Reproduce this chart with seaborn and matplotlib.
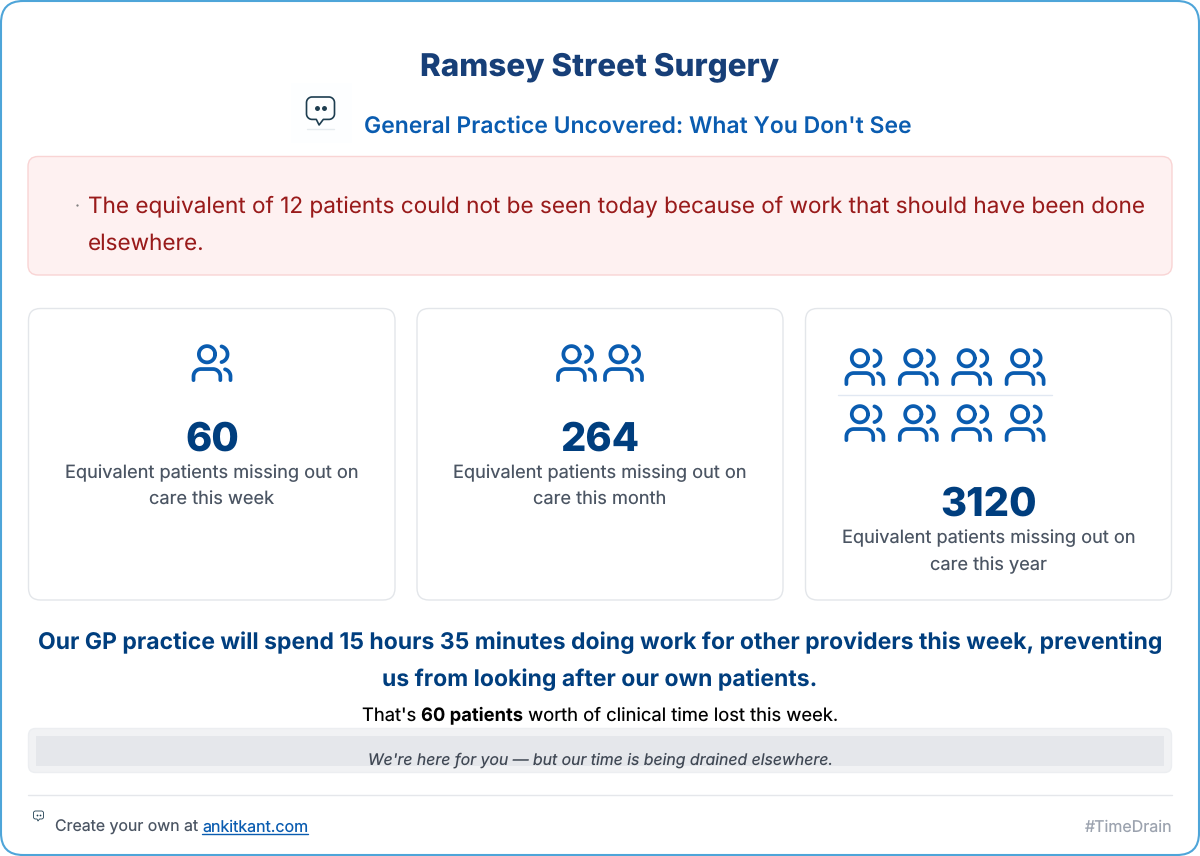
import numpy as np
import pandas as pd
import matplotlib
matplotlib.use("Agg")
import matplotlib.pyplot as plt
import seaborn as sns
from matplotlib.patches import FancyBboxPatch, Rectangle
from matplotlib.path import Path

# the numbers on the cards
card_values = [60, 264, 3120]
card_periods = ["week", "month", "year"]
card_icons = [1, 2, 8]

title = "Ramsey Street Surgery"
subtitle = "General Practice Uncovered: What You Don't See"
alert_lines = ["The equivalent of 12 patients could not be seen today because of work that should have been done",
               "elsewhere."]
headline = ["Our GP practice will spend 15 hours 35 minutes doing work for other providers this week, preventing",
            "us from looking after our own patients."]
lost_runs = [("That's ", "normal"), ("60 patients", "bold"), (" worth of clinical time lost this week.", "normal")]
tagline = "We're here for you \u2014 but our time is being drained elsewhere."

NAVY = "#003e7e"
BLUE = "#0a5cb0"
GREY = "#4b5563"

sns.set_theme(style="white")
plt.rcParams["font.family"] = ["Inter", "DejaVu Sans"]
plt.rcParams["text.hinting"] = "none"
plt.rcParams["text.hinting_factor"] = 1

W, H = 1200, 856
fig = plt.figure(figsize=(12, 8.56), dpi=100)
ax = fig.add_axes([0, 0, 1, 1])
ax.set_xlim(0, W)
ax.set_ylim(H, 0)
ax.axis("off")


def px(size):
    return size * 0.72


def box(x0, y0, x1, y1, r, fc, ec, lw=1.0, z=1):
    ax.add_patch(FancyBboxPatch((x0 + r, y0 + r), x1 - x0 - 2 * r, y1 - y0 - 2 * r,
                                boxstyle=f"round,pad={r},rounding_size={r}",
                                fc=fc, ec=ec, lw=lw, zorder=z))


def arc(cx, cy, r, a0, a1, n=24):
    t = np.radians(np.linspace(a0, a1, n))
    return np.column_stack([cx + r * np.cos(t), cy + r * np.sin(t)])


def make_path(parts):
    verts, codes = [], []
    for p in parts:
        verts.extend(p)
        codes.extend([Path.MOVETO] + [Path.LINETO] * (len(p) - 1))
    return Path(np.array(verts, dtype=float), codes)


# people icon, y up, centred on 0
people = make_path([
    np.vstack([[4.5, -9], [4.5, -7], arc(0.5, -7, 4, 0, 90), arc(-6, -7, 4, 90, 180), [-10, -9]]),
    arc(-2.7, 5, 4.4, 0, 360, 40),
    np.vstack([[10, -9], [10, -7], arc(6, -7, 4, 0, 75)]),
    arc(4, 5, 4.4, 75, -75),
])

# speech bubble icon
bubble = make_path([
    np.vstack([arc(-6, 6, 4, 90, 180), arc(-6, -2, 4, 180, 270), [[-3, -6], [-1, -10], [2, -6]],
               arc(6, -2, 4, 270, 360), arc(6, 6, 4, 0, 90), [[-6, 10]]]),
])

# outer frame and the boxes
box(1, 1, W - 1, H - 1, 22, "white", "#4ea5d9", lw=1.5)
box(28, 156.5, 1172, 275, 10, "#fef1f1", "#f9d4d4")
for x0, x1 in [(28.5, 395), (417, 783), (805.5, 1171.5)]:
    box(x0, 308.5, x1, 600, 12, "white", "#e3e6ea")
ax.plot([838, 1052], [394.5, 394.5], color="#e1e8f2", lw=1, zorder=2)

# header
ax.text(600, 67, title, ha="center", va="center", fontsize=px(31.4), fontweight="extra bold", color="#173f78")
ax.add_patch(Rectangle((291, 83), 61, 60, fc="#fdfeff", ec="none", zorder=1))
ax.plot([307, 334], [129, 129], color="#e6ebef", lw=1, zorder=2)
ax.text(637.5, 127, subtitle, ha="center", va="center", fontsize=px(22.95), fontweight="semibold", color=BLUE)

# small bubbles
icon_df = pd.DataFrame({"x": [320.5, 38.5], "y": [111, 816], "size": [28, 10]})
for _, r in icon_df.iterrows():
    sns.scatterplot(x=[r["x"]], y=[r["y"]], marker=bubble, s=(r["size"] * 0.72) ** 2,
                    facecolor="none", edgecolor="#1d3d50", linewidth=1.2 if r["size"] > 20 else 0.6,
                    legend=False, ax=ax, zorder=3)
    d = r["size"] * 0.14
    sns.scatterplot(x=[r["x"] - d, r["x"] + d], y=[r["y"] - r["size"] * 0.1] * 2, marker="o",
                    s=(r["size"] * 0.09) ** 2 * 2, color="#1d3d50", linewidth=0, legend=False, ax=ax, zorder=3)

# alert
ax.plot([77], [204.5], marker="o", ms=0.6, color="#777777")
ax.text(88, 206.5, alert_lines[0], ha="left", va="center", fontsize=px(22.53), color="#991b1b")
ax.text(88, 243.5, alert_lines[1], ha="left", va="center", fontsize=px(22.53), color="#991b1b")

# cards
card_x = [212, 600, 988.5]
number_y = [440.5, 440.5, 505.5]
label_y = [473, 473, 538]
for cx, val, per, ny, ly in zip(card_x, card_values, card_periods, number_y, label_y):
    ax.text(cx, ny, str(val), ha="center", va="center", fontsize=px(39.8), fontweight="extra bold", color=NAVY)
    ax.text(cx, ly, "Equivalent patients missing out on", ha="center", va="center", fontsize=px(18.2), color=GREY)
    ax.text(cx, ly + 27, f"care this {per}", ha="center", va="center", fontsize=px(18.2), color=GREY)

# one point per people icon on each card
icon_rows = []
for cx, n in zip(card_x, card_icons):
    if n == 8:
        for row_y in [367.5, 423.5]:
            for k in range(4):
                icon_rows.append({"x": cx - 43.5 + (k - 1.5) * 53.4, "y": row_y})
    else:
        for k in range(n):
            icon_rows.append({"x": cx + (k - (n - 1) / 2) * 47, "y": 363.5})
icons = pd.DataFrame(icon_rows)
sns.scatterplot(data=icons, x="x", y="y", marker=people, s=(37 * 0.72) ** 2, facecolor="none",
                edgecolor=BLUE, linewidth=2.7, capstyle="round", legend=False, ax=ax, zorder=3)
ax.set_xlim(0, W)
ax.set_ylim(H, 0)
ax.set_xlabel("")
ax.set_ylabel("")

# bottom message
ax.text(600, 642.5, headline[0], ha="center", va="center", fontsize=px(23), fontweight="bold", color=NAVY)
ax.text(600, 679.5, headline[1], ha="center", va="center", fontsize=px(23), fontweight="bold", color=NAVY)

renderer = fig.canvas.get_renderer()
widths = []
for txt, weight in lost_runs:
    t = ax.text(0, 716, txt.replace(" ", "\u00a0"), fontsize=px(18.4), fontweight=weight, va="center", color="black")
    widths.append((t, t.get_window_extent(renderer).width))
x = 600 - sum(w for _, w in widths) / 2
for t, w in widths:
    t.set_x(x)
    x += w

# grey bar with the tagline
box(28.5, 728.5, 1171.5, 772.5, 7, "#f1f2f4", "#eceef1")
ax.add_patch(Rectangle((36, 736), 1128, 30, fc="#e5e7eb", ec="none", zorder=2))
ax.text(600, 760.5, tagline, ha="center", va="center", fontsize=px(15.8), style="italic", color="#404854", zorder=3)

# footer
ax.plot([28, 1172], [795, 795], color="#e5e7eb", lw=1, zorder=2)
t1 = ax.text(55, 827.5, "Create your own at", ha="left", va="center", fontsize=px(15.85), color=GREY)
t2 = ax.text(202, 827.5, "ankitkant.com", ha="left", va="center", fontsize=px(16), color=BLUE)
ax.plot([202, 202 + t2.get_window_extent(renderer).width], [833.5, 833.5], color=BLUE, lw=1)
ax.text(1172, 827.5, "#TimeDrain", ha="right", va="center", fontsize=px(16), color="#9ca3af")

fig.savefig("out.png", dpi=100)
